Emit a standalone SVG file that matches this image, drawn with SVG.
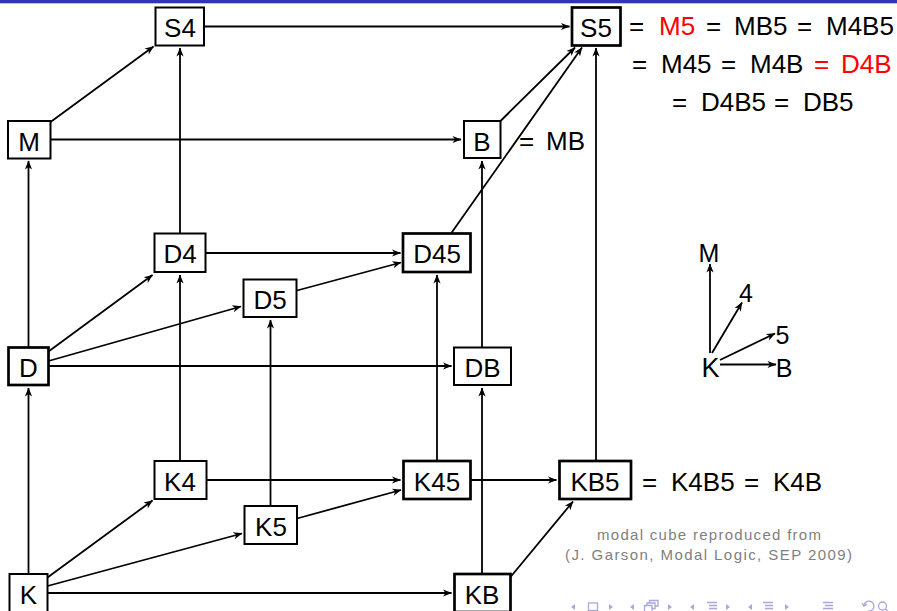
<svg xmlns="http://www.w3.org/2000/svg" width="897" height="611" viewBox="0 0 897 611">
<style>
.box{fill:#fff;stroke:#000;stroke-width:2}
.thick{stroke-width:2.7}
.lbl{font-family:"Liberation Sans",Arial,sans-serif;font-size:26px;fill:#000;text-anchor:middle}
.eq{font-family:"Liberation Sans",Arial,sans-serif;font-size:26px;fill:#000}
.red{fill:#ff0000}
.ax{font-family:"Liberation Sans",Arial,sans-serif;font-size:25px;fill:#000;text-anchor:middle}
.cite{font-family:"Liberation Sans",Arial,sans-serif;font-size:15px;fill:#808080;text-anchor:middle}
.edge{stroke:#000;stroke-width:1.8;fill:none;marker-end:url(#arr)}
.nav{fill:#a8a8d8;stroke:none}
.navs{fill:none;stroke:#a8a8d8;stroke-width:1.3}
</style>
<defs>
<marker id="arr" markerUnits="userSpaceOnUse" viewBox="-10 -5 12 10" refX="0" refY="0" markerWidth="12" markerHeight="10" orient="auto">
<path d="M0.5,0 L-8.5,-3.6 L-6,0 L-8.5,3.6 Z" fill="#000"/>
</marker>
</defs>
<rect x="0" y="0" width="897" height="3.3" fill="#3333b3"/>
<g id="connectors">
<line class="edge" x1="50.5" y1="122" x2="153.5" y2="46.5"/>
<line class="edge" x1="50.5" y1="139.5" x2="461" y2="139.5"/>
<line class="edge" x1="204" y1="26.5" x2="569.5" y2="26.5"/>
<line class="edge" x1="500.5" y1="121" x2="575" y2="47.5"/>
<line class="edge" x1="451" y1="233.5" x2="582" y2="47.5"/>
<line class="edge" x1="28.5" y1="347.5" x2="28.5" y2="161"/>
<line class="edge" x1="180" y1="233.5" x2="180" y2="48"/>
<line class="edge" x1="482" y1="347.5" x2="482" y2="161"/>
<line class="edge" x1="596" y1="461" x2="596" y2="48"/>
<line class="edge" x1="48.5" y1="351.5" x2="152.5" y2="275"/>
<line class="edge" x1="48.5" y1="361" x2="241" y2="306.5"/>
<line class="edge" x1="48.5" y1="366" x2="451.5" y2="366"/>
<line class="edge" x1="206" y1="253" x2="400.5" y2="253"/>
<line class="edge" x1="297" y1="290.5" x2="401" y2="262.5"/>
<line class="edge" x1="28.5" y1="574" x2="28.5" y2="388"/>
<line class="edge" x1="180" y1="461" x2="180" y2="275"/>
<line class="edge" x1="270.5" y1="506" x2="270.5" y2="320"/>
<line class="edge" x1="437" y1="461" x2="437" y2="275"/>
<line class="edge" x1="482" y1="574" x2="482" y2="388"/>
<line class="edge" x1="47.5" y1="577.5" x2="152.5" y2="500.5"/>
<line class="edge" x1="47.5" y1="586" x2="242" y2="533.5"/>
<line class="edge" x1="47.5" y1="593" x2="451.5" y2="593"/>
<line class="edge" x1="206.5" y1="480" x2="400.5" y2="480"/>
<line class="edge" x1="297" y1="518.5" x2="401" y2="490"/>
<line class="edge" x1="471" y1="480" x2="556.5" y2="480"/>
<line class="edge" x1="510.5" y1="577" x2="573" y2="501.5"/>
<line class="edge" x1="710" y1="353" x2="710" y2="264"/>
<line class="edge" x1="712" y1="353" x2="742" y2="302.5"/>
<line class="edge" x1="720" y1="360" x2="775" y2="333.5"/>
<line class="edge" x1="720" y1="364.5" x2="776" y2="364.5"/>
</g>
<g id="S4"><rect class="box" x="155.5" y="7.5" width="48.5" height="38"/><text class="lbl" x="180" y="37">S4</text></g>
<g id="S5"><rect class="box thick" x="572" y="7.5" width="48.5" height="38"/><text class="lbl" x="596" y="37">S5</text></g>
<g id="M"><rect class="box" x="8" y="121" width="42.5" height="37.5"/><text class="lbl" x="29" y="151">M</text></g>
<g id="B"><rect class="box" x="464" y="121" width="36.5" height="37"/><text class="lbl" x="482" y="150.5">B</text></g>
<g id="D4"><rect class="box" x="154.5" y="233.5" width="51" height="38.5"/><text class="lbl" x="180" y="263">D4</text></g>
<g id="D45"><rect class="box thick" x="403" y="233.5" width="67.5" height="38.5"/><text class="lbl" x="437" y="263">D45</text></g>
<g id="D5"><rect class="box" x="243.5" y="279.5" width="53" height="37.5"/><text class="lbl" x="270" y="308.5">D5</text></g>
<g id="D"><rect class="box thick" x="8.5" y="347.5" width="40" height="37.5"/><text class="lbl" x="28.5" y="377">D</text></g>
<g id="DB"><rect class="box" x="454" y="347.5" width="57" height="37.5"/><text class="lbl" x="482.5" y="377">DB</text></g>
<g id="K4"><rect class="box" x="154.5" y="461" width="52" height="38"/><text class="lbl" x="180" y="491">K4</text></g>
<g id="K45"><rect class="box thick" x="403.5" y="461" width="67" height="38"/><text class="lbl" x="437" y="491">K45</text></g>
<g id="K5"><rect class="box" x="244.5" y="506" width="52.5" height="38"/><text class="lbl" x="271" y="536">K5</text></g>
<g id="KB5"><rect class="box thick" x="559.5" y="461" width="71.5" height="38"/><text class="lbl" x="595" y="491">KB5</text></g>
<g id="K"><rect class="box" x="9.5" y="574" width="38" height="38"/><text class="lbl" x="28.5" y="604">K</text></g>
<g id="KB"><rect class="box thick" x="454.5" y="574" width="56" height="38"/><text class="lbl" x="482" y="604">KB</text></g>
<g id="labels">
<text class="eq" y="35"><tspan x="629">=</tspan><tspan x="659" class="red">M5</tspan><tspan x="706">=</tspan><tspan x="734">MB5</tspan><tspan x="797">=</tspan><tspan x="826">M4B5</tspan></text>
<text class="eq" y="73"><tspan x="632">=</tspan><tspan x="661">M45</tspan><tspan x="721">=</tspan><tspan x="750">M4B</tspan><tspan x="814" class="red">=</tspan><tspan x="841" class="red">D4B</tspan></text>
<text class="eq" y="111"><tspan x="672">=</tspan><tspan x="701">D4B5</tspan><tspan x="774">=</tspan><tspan x="803">DB5</tspan></text>
<text class="eq" y="149.5"><tspan x="519">=</tspan><tspan x="546">MB</tspan></text>
<text class="eq" y="491"><tspan x="642">=</tspan><tspan x="671">K4B5</tspan><tspan x="744">=</tspan><tspan x="773">K4B</tspan></text>
</g>
<g id="axes">
<text class="ax" x="709" y="262">M</text>
<text class="ax" x="746" y="302">4</text>
<text class="ax" x="782.5" y="343.5">5</text>
<text class="ax" x="710.5" y="377" style="font-size:27px">K</text>
<text class="ax" x="784" y="377">B</text>
</g>
<g id="citation">
<text class="cite" x="709" y="540" textLength="224" lengthAdjust="spacing">modal cube reproduced from</text>
<text class="cite" x="708.5" y="559.5" textLength="287" lengthAdjust="spacing">(J. Garson, Modal Logic, SEP 2009)</text>
</g>
<g id="navigation">
<path class="nav" d="M575,604 L571,607 L575,610 Z"/>
<rect class="navs" x="588.5" y="603" width="9" height="7.5"/>
<path class="nav" d="M609,604 L613,607 L609,610 Z"/>
<path class="nav" d="M634,604 L630,607 L634,610 Z"/>
<path class="navs" d="M644.5,611 V605.5 H652 V611 M647,605.5 V603 H655 V608.5 H652 M649.5,603 V600.5 H658 V606 H655"/>
<path class="nav" d="M668,604 L672,607 L668,610 Z"/>
<path class="nav" d="M694,604 L690,607 L694,610 Z"/>
<path class="navs" d="M707,602.5 H717 M709,605.5 H717 M709,608.5 H717"/>
<path class="nav" d="M726,604 L730,607 L726,610 Z"/>
<path class="nav" d="M752,604 L748,607 L752,610 Z"/>
<path class="navs" d="M763,602.5 H773 M765,605.5 H773 M765,608.5 H773"/>
<path class="nav" d="M785,604 L789,607 L785,610 Z"/>
<path class="navs" d="M823,602.5 H833 M825,605.5 H833 M823,608.5 H833"/>
<path class="navs" d="M864,605 A5,5 0 1 1 868,611 M862,603 L864,606 L867,604"/>
<circle class="navs" cx="882.5" cy="606" r="4"/>
<path class="navs" d="M885.5,609 L888,611.5"/>
</g>
</svg>
